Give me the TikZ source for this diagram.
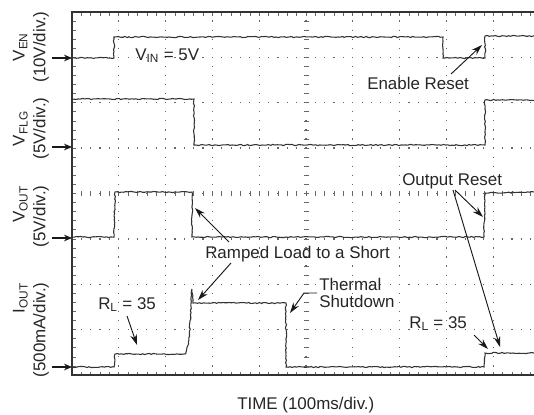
\documentclass[tikz,border=0pt]{standalone}
\usepackage{fontspec}
\setmainfont{Liberation Sans}
\usetikzlibrary{arrows.meta,calc,decorations.pathmorphing}

\tikzset{
  lbl/.style={font=\fontsize{12.7}{15.5}\selectfont, text=black!85, inner sep=0pt},
  frame/.style={draw=black!80, line width=0.8pt},
  gridv/.style={draw=black!60, line width=1pt, dash pattern=on 0.9pt off 5.906pt, dash phase=0.45pt},
  gridh/.style={draw=black!60, line width=1pt, dash pattern=on 0.9pt off 6.12pt, dash phase=0.45pt},
  tick/.style={draw=black!60, line width=0.5pt},
  trace/.style={draw=black!80, line width=0.8pt, decorate,
    decoration={random steps, segment length=1.6pt, amplitude=0.45pt}},
  marker/.style={draw=black!90, line width=0.8pt, -{Stealth[length=6pt,width=5pt]}},
  note/.style={draw=black!90, line width=0.7pt, -{Stealth[length=8pt,width=5pt]}},
}

\begin{document}
\begin{tikzpicture}[x=0.75pt,y=-0.75pt]
\useasboundingbox (0,0) rectangle (534,414);
\fill[white] (0,0) rectangle (534,414);
\clip (0,0) rectangle (534,414);
\pgfmathsetseed{7}

% grid, frame and ticks
\foreach \i in {1,...,9} \draw[gridv] (72+46.8*\i,12) -- (72+46.8*\i,375);
\foreach \j in {1,...,7} \draw[gridh] (72,12+45.375*\j) -- (540,12+45.375*\j);
\foreach \k in {1,...,57} {
  \draw[tick] (72+9.36*\k,12) -- (72+9.36*\k,15.5);
  \draw[tick] (72+9.36*\k,375) -- (72+9.36*\k,371.5);
  \draw[tick] (72+9.36*\k,191) -- (72+9.36*\k,196);
}
\foreach \k in {1,...,39} {
  \draw[tick] (72,12+9.075*\k) -- (75.5,12+9.075*\k);
  \draw[tick] (303.5,12+9.075*\k) -- (308.5,12+9.075*\k);
}
\draw[frame] (540,12) -- (72,12) -- (72,375) -- (540,375);

% channel labels
\node[lbl, rotate=90, align=center] (lblen) at (31,47) {V\textsubscript{EN}\\(10V/div.)};
\node[lbl, rotate=90, align=center] (lblflg) at (31,128.5) {V\textsubscript{FLG}\\(5V/div.)};
\node[lbl, rotate=90, align=right] (lblout) at (31,216.5) {V\textsubscript{OUT}\\(5V/div.)};
\node[lbl, rotate=90, align=right] (lbliout) at (31,330) {I\textsubscript{OUT}\\(500mA/div.)};

% zero markers
\coordinate (zen) at (72,58);
\coordinate (zflg) at (72,147);
\coordinate (zout) at (72,238);
\coordinate (ziout) at (72,367);
\foreach \z in {zen,zflg,zout,ziout}
  \draw[marker] ($(\z)+(-20,0)$) -- (\z);

% traces
\draw[trace] (72,58) -- (114,58) -- (114,37) -- (443,37) -- (443,58) -- (485,58) -- (485,36) -- (540,36);
\draw[trace] (72,99) -- (194,99) -- (194,145) -- (485,145) -- (485,100) -- (540,100);
\draw[trace] (72,237) -- (114,237) -- (115,192) -- (192,192) -- (192,237) -- (484,237) -- (485,193) -- (540,192);
\draw[trace] (72,367) -- (114,367) -- (115,354) -- (184,354) .. controls (188,353) and (190,335) .. (191,300)
  -- (192,289) -- (193,303) -- (286,303) -- (286,367) -- (484,367) -- (485,353) -- (540,353);

% annotations
\coordinate (enrise) at (482,45);
\coordinate (voutrise) at (483,217);
\coordinate (ioutrise) at (500,347);
\coordinate (voutdrop) at (195,208);
\coordinate (ipeak) at (198,300);
\coordinate (thdrop) at (290,313);
\coordinate (rlleft) at (137,345);
\coordinate (rlright) at (488,349);

\node[lbl, anchor=base west] (vin) at (135,60) {V\textsubscript{IN} = 5V};
\node[lbl, anchor=base west] (enreset) at (367,89) {Enable Reset};
\node[lbl, anchor=base west] (outreset) at (402,185) {Output Reset};
\node[lbl, anchor=base west] (ramped) at (205,258) {Ramped Load to a Short};
\node[lbl, anchor=west, align=left, font=\fontsize{12.7}{12.75}\selectfont] (thermal) at (319,293) {Thermal\\Shutdown};
\node[lbl, anchor=base west] (rlone) at (98,309) {R\textsubscript{L} = 35};
\node[lbl, anchor=base west] (rltwo) at (409,328) {R\textsubscript{L} = 35};
\node[lbl, anchor=base west] (timeaxis) at (237,409) {TIME (100ms/div.)};

\draw[note] ($(enreset.base west)+(84,-15)$) -- (enrise);
\draw[note] ($(outreset.base west)+(53,5)$) -- (voutrise);
\draw[note] ($(outreset.base west)+(51,5)$) -- (ioutrise);
\draw[note] ($(ramped.base west)+(24,-16)$) -- (voutdrop);
\draw[note] ($(ramped.base west)+(26,5)$) -- (ipeak);
\draw[note] ($(thermal.west)+(-2,0)$) -- ++(-13,0) -- (thdrop);
\draw[note] ($(rlone.base west)+(29,7)$) -- (rlleft);
\draw[note] ($(rltwo.base west)+(65,7)$) -- (rlright);
\end{tikzpicture}
\end{document}
